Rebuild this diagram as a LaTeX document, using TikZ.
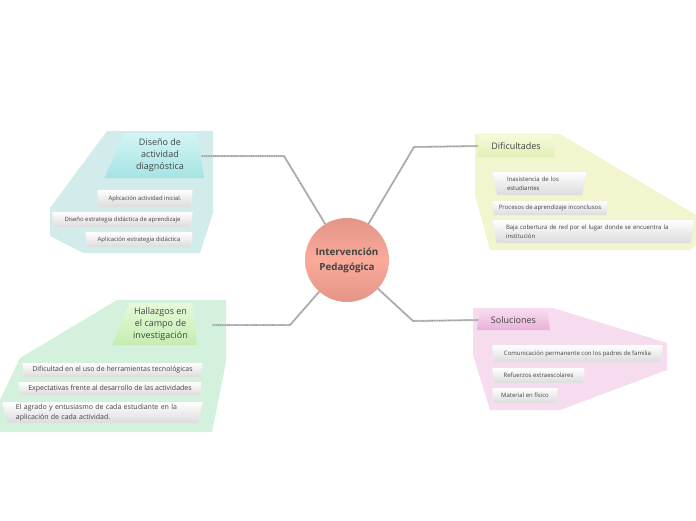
\documentclass[tikz,border=0pt]{standalone}
\usepackage{fontspec}
\setmainfont{Open Sans}
\usetikzlibrary{shapes.geometric}
\definecolor{txt}{HTML}{444444}
\definecolor{subtxt}{HTML}{444444}
\definecolor{bgcyan}{HTML}{D2ECEC}
\definecolor{bgyel}{HTML}{F3F5CE}
\definecolor{bggreen}{HTML}{D3F1DC}
\definecolor{bgpink}{HTML}{F6DCEE}
\definecolor{cyanA}{HTML}{D3F5F5}
\definecolor{cyanB}{HTML}{A6E3E3}
\definecolor{yelA}{HTML}{F5FBDC}
\definecolor{yelB}{HTML}{E0EFB5}
\definecolor{grnA}{HTML}{E6FADA}
\definecolor{grnB}{HTML}{C6ECB0}
\definecolor{pnkA}{HTML}{F8DAEF}
\definecolor{pnkB}{HTML}{E8B2D8}
\definecolor{salA}{HTML}{E39586}
\definecolor{salB}{HTML}{FBAA9A}
\tikzset{
  mainbox/.style={trapezium, trapezium stretches=true, inner sep=0pt,
    text=txt, align=center, font=\fontsize{9}{12}\selectfont},
  subbox/.style={trapezium, shape border rotate=180, trapezium stretches=true,
    inner sep=0pt, top color=white, bottom color=gray!28, draw=gray!15,
    trapezium left angle=75, trapezium right angle=75, text=subtxt},
  conn/.style={draw=gray!45, line width=2pt},
  conndots/.style={draw=gray!85, line width=1.1pt, dash pattern=on 0.9pt off 0.9pt},
}
\begin{document}
\begin{tikzpicture}[x=1pt,y=-1pt]
\useasboundingbox (0,0) rectangle (696,520);

% backgrounds
\fill[bgcyan] (107,131) -- (213,131) -- (213,213) -- (200,253) -- (83,253) -- (50,236) -- (50,208) -- cycle;
\fill[bgyel] (475,134) -- (560,134) -- (696,215) -- (696,245) -- (690,250) -- (490,250) -- (475,195) -- cycle;
\fill[bggreen] (117,300) -- (226,300) -- (226,362) -- (212,432) -- (0,432) -- (0,400) -- (20,358) -- cycle;
\fill[bgpink] (473,308) -- (553,308) -- (667,343) -- (667,370) -- (560,410) -- (490,410) -- (473,355) -- cycle;

% central node
\node[circle, minimum size=84pt, inner sep=0pt, top color=salA, bottom color=salA, middle color=salB,
  text=txt, align=center, font=\bfseries\fontsize{9.8}{15}\selectfont] (c) at (347,260) {Intervención\\Pedagógica};

% main nodes
\node[mainbox, minimum width=100pt, minimum height=45pt, trapezium left angle=69, trapezium right angle=81,
  top color=cyanA, bottom color=cyanB] (n1) at (160,155.5) {Diseño de\\actividad\\diagnóstica};
\node[mainbox, minimum width=78pt, minimum height=22pt, trapezium left angle=75, trapezium right angle=77,
  top color=yelA, bottom color=yelB] (n2) at (516,146) {Dificultades};
\node[mainbox, minimum width=85pt, minimum height=42pt, trapezium left angle=66, trapezium right angle=82,
  top color=grnA, bottom color=grnB] (n3) at (160.5,324) {Hallazgos en\\el campo de\\investigación};
\node[mainbox, minimum width=73pt, minimum height=20pt, trapezium left angle=76, trapezium right angle=76,
  top color=pnkA, bottom color=pnkB] (n4) at (513.5,320) {Soluciones};

% bend coordinates
\coordinate (b1) at (284,156);
\coordinate (b2) at (414,147);
\coordinate (b3) at (290,325);
\coordinate (b4) at (413,321);
\coordinate (e1) at (201,156);
\coordinate (e3) at (212,325);

% connectors
\draw[conn] (c) -- (b1) -- (e1);
\draw[conndots] (c) -- (b1) -- (e1);
\draw[conn] (c) -- (b2) -- (n2.west);
\draw[conndots] (c) -- (b2) -- (n2.west);
\draw[conn] (c) -- (b3) -- (e3);
\draw[conndots] (c) -- (b3) -- (e3);
\draw[conn] (c) -- (b4) -- (n4.west);
\draw[conndots] (c) -- (b4) -- (n4.west);

% top-left sub nodes
\begin{scope}[every node/.append style={font=\fontsize{5.9}{7}\selectfont}]
\node[subbox, minimum width=96pt, minimum height=17pt] (s11) at (145,198.5) {Aplicación actividad inicial.};
\node[subbox, minimum width=141pt, minimum height=15pt] (s12) at (122.5,219.5) {Diseño estrategia didáctica de aprendizaje};
\node[subbox, minimum width=108pt, minimum height=15pt] (s13) at (139,239.5) {Aplicación estrategia didáctica};
\end{scope}

% top-right sub nodes
\begin{scope}[every node/.append style={font=\fontsize{6}{9.5}\selectfont}]
\node[subbox, minimum width=95pt, minimum height=23pt, text width=65pt, align=left] (s21) at (539.5,183.5) {Inasistencia de los\\estudiantes};
\node[subbox, minimum width=116pt, minimum height=14pt] (s22) at (550,208) {Procesos de aprendizaje inconclusos};
\node[subbox, minimum width=203pt, minimum height=23pt, text width=175pt, align=left] (s23) at (593.5,231.5) {Baja cobertura de red por el lugar donde se encuentra la\\institución};
\end{scope}

% bottom-left sub nodes
\begin{scope}[every node/.append style={font=\fontsize{7}{9.5}\selectfont}]
\node[subbox, minimum width=181pt, minimum height=14pt] (s31) at (112.5,370) {Dificultad en el uso de herramientas tecnológicas};
\node[subbox, minimum width=184pt, minimum height=13pt] (s32) at (110,388.5) {Expectativas frente al desarrollo de las actividades};
\node[subbox, minimum width=201pt, minimum height=21pt, text width=173pt, align=left] (s33) at (102.5,412.5) {El agrado y entusiasmo de cada estudiante en la\\aplicación de cada actividad.};
\end{scope}

% bottom-right sub nodes
\begin{scope}[every node/.append style={font=\fontsize{6}{7}\selectfont}]
\node[subbox, minimum width=171pt, minimum height=17pt] (s41) at (577.5,353.5) {Comunicación permanente con los padres de familia};
\node[subbox, minimum width=93pt, minimum height=15pt] (s42) at (538.5,375.5) {Refuerzos extraescolares};
\node[subbox, minimum width=66pt, minimum height=15pt] (s43) at (525,395.5) {Material en físico};
\end{scope}
\end{tikzpicture}
\end{document}
